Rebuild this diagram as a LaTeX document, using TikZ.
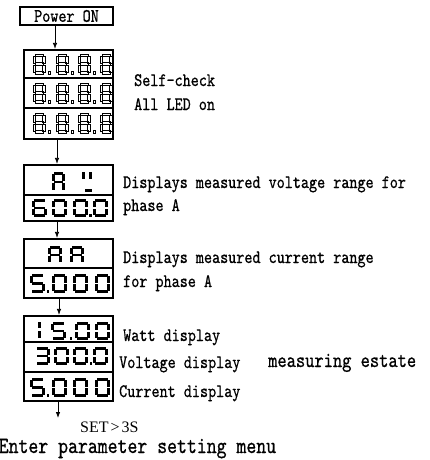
\documentclass[tikz,border=0pt]{standalone}
\usepackage{fontspec}
\setmainfont{Liberation Serif}
\newfontfamily\monofnt{lmmono10-regular}[Extension=.otf, FakeStretch=0.81, FakeBold=0.7]
\usetikzlibrary{arrows.meta}

% seven-segment helpers
\def\sghalf{1.3}
\def\sggap{0.9}
\expandafter\def\csname sgset0\endcsname{a,b,c,d,e,f}
\expandafter\def\csname sgset3\endcsname{a,b,c,d,g}
\expandafter\def\csname sgset5\endcsname{a,c,d,f,g}
\expandafter\def\csname sgset6\endcsname{a,c,d,e,f,g}
\expandafter\def\csname sgset8\endcsname{a,b,c,d,e,f,g}
\expandafter\def\csname sgsetA\endcsname{a,b,c,e,f,g}
\newcommand\sgsega{\path[segfill] ({\sgxl+\sggap},{\sgyt-\sghalf}) rectangle ({\sgxr-\sggap},{\sgyt+\sghalf});}
\newcommand\sgsegd{\path[segfill] ({\sgxl+\sggap},{\sgyb-\sghalf}) rectangle ({\sgxr-\sggap},{\sgyb+\sghalf});}
\newcommand\sgsegg{\path[segfill] ({\sgxl+\sggap},{\sgym-\sghalf}) rectangle ({\sgxr-\sggap},{\sgym+\sghalf});}
\newcommand\sgsegb{\path[segfill] ({\sgxr-\sghalf},{\sgyt+\sggap}) rectangle ({\sgxr+\sghalf},{\sgym-\sggap});}
\newcommand\sgsegc{\path[segfill] ({\sgxr-\sghalf},{\sgym+\sggap}) rectangle ({\sgxr+\sghalf},{\sgyb-\sggap});}
\newcommand\sgsegf{\path[segfill] ({\sgxl-\sghalf},{\sgyt+\sggap}) rectangle ({\sgxl+\sghalf},{\sgym-\sggap});}
\newcommand\sgsege{\path[segfill] ({\sgxl-\sghalf},{\sgym+\sggap}) rectangle ({\sgxl+\sghalf},{\sgyb-\sggap});}
% \sgdigit{left}{top}{width}{height}{symbol}
\newcommand\sgdigit[5]{%
  \pgfmathsetmacro\sgxl{#1+\sghalf}%
  \pgfmathsetmacro\sgxr{#1+#3-\sghalf}%
  \pgfmathsetmacro\sgyt{#2+\sghalf}%
  \pgfmathsetmacro\sgyb{#2+#4-\sghalf}%
  \pgfmathsetmacro\sgym{(\sgyt+\sgyb)/2}%
  \edef\sglist{\csname sgset#5\endcsname}%
  \foreach \s in \sglist {\csname sgseg\s\endcsname}%
}
% \sgdot{left}{bottom}
\newcommand\sgdot[2]{\path[segfill] (#1,{#2-2.6}) rectangle ({#1+2.6},#2);}

\tikzset{
  dbox/.style={draw, line width=2.2pt, inner sep=0pt, rectangle},
  sepline/.style={line width=2.2pt},
  arr/.style={line width=0.8pt, -{Latex[length=6pt,width=4.5pt]}},
  lbl/.style={font=\monofnt\fontsize{19}{21}\selectfont, inner sep=0pt, anchor=base west},
  biglbl/.style={font=\monofnt\fontsize{21.75}{24}\selectfont, inner sep=0pt, anchor=base west},
  segfill/.style={fill=black},
  hollow/.style={segfill/.style={draw=black, line width=0.45pt}},
}

\begin{document}
\begin{tikzpicture}[x=1pt, y=-1pt]
\useasboundingbox (0,0) rectangle (430,460);

% boxes
\node[dbox, minimum width=93pt, minimum height=18pt, font=\monofnt\fontsize{19}{20}\selectfont] (pw) at (66.5,16) {Power ON};
\node[dbox, minimum width=89pt, minimum height=89pt] (b1) at (68.5,94.5) {};
\node[dbox, minimum width=89pt, minimum height=56pt] (b2) at (68.5,193) {};
\node[dbox, minimum width=89pt, minimum height=59pt] (b3) at (68.5,268.5) {};
\node[dbox, minimum width=89pt, minimum height=85pt] (b4) at (68.5,358.5) {};

% separators
\coordinate (s11) at (0,78);
\coordinate (s12) at (0,108);
\coordinate (s21) at (0,195);
\coordinate (s31) at (0,268);
\coordinate (s41) at (0,342);
\coordinate (s42) at (0,372);
\draw[sepline] (b1.west |- s11) -- (b1.east |- s11);
\draw[sepline] (b1.west |- s12) -- (b1.east |- s12);
\draw[sepline] (b2.west |- s21) -- (b2.east |- s21);
\draw[sepline] (b3.west |- s31) -- (b3.east |- s31);
\draw[sepline] (b4.west |- s41) -- (b4.east |- s41);
\draw[sepline] (b4.west |- s42) -- (b4.east |- s42);

% arrows
\coordinate (ax0) at (55,0);
\coordinate (ax1) at (57,0);
\coordinate (ax2) at (57,0);
\coordinate (ax3) at (59,0);
\coordinate (ax4) at (58,0);
\coordinate (endpt) at (58,418);
\draw[arr] (pw.south -| ax0) -- (b1.north -| ax0);
\draw[arr] (b1.south -| ax1) -- (b2.north -| ax1);
\draw[arr] (b2.south -| ax2) -- (b3.north -| ax2);
\draw[arr] (b3.south -| ax3) -- (b4.north -| ax3);
\draw[arr] (b4.south -| ax4) -- (endpt);

% box 1: hollow 8.8.8.8
\begin{scope}[hollow]
\foreach \ty in {54,83,113} {
  \sgdigit{33}{\ty}{12}{20}{8}
  \sgdigit{56}{\ty}{12}{20}{8}
  \sgdigit{78}{\ty}{12}{20}{8}
  \sgdigit{100}{\ty}{12}{20}{8}
  \sgdot{48}{\ty+20}
  \sgdot{71}{\ty+20}
  \sgdot{93}{\ty+20}
}
\end{scope}

% box 2
\sgdigit{52}{172}{13}{20}{A}
\fill (82,172) rectangle (84.6,179);
\fill (89.4,172) rectangle (92,179);
\fill (85,189.4) rectangle (92,192);
\sgdigit{32}{199}{15}{18}{6}
\sgdigit{52}{199}{15}{18}{0}
\sgdigit{73}{199}{15}{18}{0}
\sgdot{89.3}{217}
\sgdigit{93}{199}{15}{18}{0}

% box 3
\sgdigit{48}{246}{14}{18}{A}
\sgdigit{70}{246}{14}{18}{A}
\sgdigit{30}{274}{15}{19}{5}
\sgdot{46.5}{293}
\sgdigit{52}{274}{15}{19}{0}
\sgdigit{73}{274}{15}{19}{0}
\sgdigit{95}{274}{15}{19}{0}

% box 4
\fill (38,322) rectangle (40.6,328);
\fill (38,331) rectangle (40.6,338);
\sgdigit{51}{322}{15}{18}{5}
\sgdot{69.5}{340}
\sgdigit{75}{322}{15}{18}{0}
\sgdigit{95}{322}{15}{18}{0}
\sgdigit{35}{347}{15}{18}{3}
\sgdigit{54}{347}{15}{18}{0}
\sgdigit{73}{347}{15}{18}{0}
\sgdot{89.5}{365}
\sgdigit{93}{347}{15}{18}{0}
\sgdigit{30}{378}{15}{19}{5}
\sgdot{46.5}{397}
\sgdigit{52}{378}{15}{19}{0}
\sgdigit{73}{378}{15}{19}{0}
\sgdigit{95}{378}{15}{19}{0}

% labels
\node[lbl] (t1) at (134,86) {Self-check};
\node[lbl] (t2) at (134,110) {All LED on};
\node[lbl] (t3) at (123,188) {Displays measured voltage range for};
\node[lbl] (t4) at (123,211) {phase A};
\node[lbl] (t5) at (123,263) {Displays measured current range};
\node[lbl] (t6) at (123,287) {for phase A};
\node[lbl] (t7) at (123,341) {Watt display};
\node[lbl] (t8) at (119,368) {Voltage display};
\node[lbl] (t9) at (119,397) {Current display};
\node[biglbl] (t10) at (268,367) {measuring estate};
\node[inner sep=0pt, anchor=base west, font=\fontsize{16}{18}\selectfont] (t11) at (80,432) {SET\kern2pt>\kern2pt3S};
\node[biglbl, font=\monofnt\fontsize{23.3}{26}\selectfont] (t12) at (-1.5,453) {Enter parameter setting menu};
\end{tikzpicture}
\end{document}
